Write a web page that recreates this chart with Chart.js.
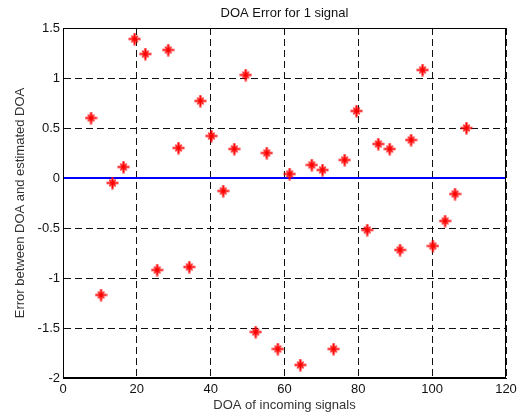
<!DOCTYPE html>
<html>
<head>
<meta charset="utf-8">
<script src="https://cdn.jsdelivr.net/npm/chart.js@4/dist/chart.umd.min.js"></script>
<style>
  html, body { margin: 0; padding: 0; background: #fff; }
  canvas { display: block; }
</style>
</head>
<body>
<canvas id="c" width="521" height="418"></canvas>
<script>
// DOA of incoming signals (degrees)
const doaX = [7.6, 10.3, 13.4, 16.4, 19.4, 22.3, 25.5, 28.5, 31.3, 34.2, 37.2, 40.2,
              43.4, 46.4, 49.5, 52.2, 55.2, 58.2, 61.4, 64.3, 67.4, 70.3, 73.3, 76.3,
              79.5, 82.4, 85.4, 88.5, 91.3, 94.3, 97.4, 100.2, 103.5, 106.2, 109.3];
// Error between DOA and estimated DOA
const errorY = [0.60, -1.17, -0.05, 0.11, 1.39, 1.24, -0.92, 1.28, 0.30, -0.89, 0.77, 0.42,
                -0.13, 0.29, 1.03, -1.54, 0.25, -1.71, 0.04, -1.87, 0.13, 0.08, -1.71, 0.18,
                0.67, -0.52, 0.34, 0.29, -0.72, 0.38, 1.08, -0.68, -0.43, -0.16, 0.50];
// Zero reference line
const zeroLineX = [0, 120];
const zeroLineY = [0, 0];

const xTicks = [0, 20, 40, 60, 80, 100, 120];
const yTicks = [-2, -1.5, -1, -0.5, 0, 0.5, 1, 1.5];

const FONT = "'Liberation Sans', Arial, sans-serif";

// MATLAB-like '*' marker: bold plus with shorter diagonals
function makeMarker() {
  const s = 13, c = s / 2;
  const cv = document.createElement('canvas');
  cv.width = s; cv.height = s;
  const g = cv.getContext('2d');
  g.strokeStyle = 'rgb(255,0,0)';
  g.lineCap = 'butt';
  g.lineWidth = 2.2;
  g.beginPath();
  g.moveTo(c, 0.5); g.lineTo(c, s - 0.5);
  g.moveTo(0.5, c); g.lineTo(s - 0.5, c);
  g.stroke();
  g.lineWidth = 1.6;
  const d = 3.2;
  g.beginPath();
  g.moveTo(c - d, c - d); g.lineTo(c + d, c + d);
  g.moveTo(c - d, c + d); g.lineTo(c + d, c - d);
  g.stroke();
  return cv;
}
const marker = makeMarker();

const boxPlugin = {
  id: 'box',
  afterDatasetsDraw(chart) {
    const { ctx, chartArea: a } = chart;
    ctx.save();
    ctx.strokeStyle = '#000';
    ctx.lineWidth = 1;
    ctx.strokeRect(a.left + 0.5, a.top + 0.5, a.right - a.left - 1, a.bottom - a.top - 1);
    ctx.restore();
  }
};

new Chart(document.getElementById('c'), {
  type: 'scatter',
  data: {
    datasets: [
      {
        type: 'line',
        label: 'zero',
        data: zeroLineX.map((x, i) => ({ x, y: zeroLineY[i] })),
        borderColor: 'rgb(0,0,255)',
        borderWidth: 2,
        pointRadius: 0,
        fill: false,
        order: 2
      },
      {
        label: 'error',
        data: doaX.map((x, i) => ({ x, y: errorY[i] })),
        pointStyle: marker,
        pointRadius: 6,
        borderColor: 'rgb(255,0,0)',
        backgroundColor: 'rgb(255,0,0)',
        order: 1
      }
    ]
  },
  options: {
    responsive: false,
    animation: false,
    layout: { padding: { left: 0, right: 15, top: 0, bottom: 0 } },
    plugins: {
      legend: { display: false },
      tooltip: { enabled: false },
      title: {
        display: true,
        text: 'DOA Error for 1 signal',
        fullSize: false,
        color: '#111',
        font: { family: FONT, size: 13, weight: 'normal' },
        padding: { top: 6, bottom: 6.4 }
      }
    },
    scales: {
      x: {
        type: 'linear',
        min: 0, max: 120,
        afterBuildTicks: s => { s.ticks = xTicks.map(v => ({ value: v })); },
        afterFit: s => { s.height = 40; },
        ticks: {
          color: '#111',
          padding: 4,
          font: { family: FONT, size: 13 },
          callback: v => String(v)
        },
        grid: {
          color: '#111',
          lineWidth: 1,
          tickLength: 0,
          drawTicks: false
        },
        border: { display: true, color: '#000', dash: [7, 4], width: 1 },
        title: {
          display: true,
          text: 'DOA of incoming signals',
          color: '#333',
          font: { family: FONT, size: 13 },
          padding: { top: 0, bottom: 4.5 }
        }
      },
      y: {
        type: 'linear',
        min: -2, max: 1.5,
        afterBuildTicks: s => { s.ticks = yTicks.map(v => ({ value: v })); },
        afterFit: s => { s.width = 63; },
        ticks: {
          color: '#111',
          padding: 3,
          font: { family: FONT, size: 13 },
          callback: v => String(Math.round(v * 10) / 10)
        },
        grid: {
          color: '#111',
          lineWidth: 1,
          tickLength: 0,
          drawTicks: false
        },
        border: { display: true, color: '#000', dash: [7, 4], width: 1 },
        title: {
          display: true,
          text: 'Error between DOA and estimated DOA',
          color: '#333',
          font: { family: FONT, size: 13 },
          padding: { top: 13, bottom: 0 }
        }
      }
    }
  },
  plugins: [boxPlugin]
});
</script>
</body>
</html>
